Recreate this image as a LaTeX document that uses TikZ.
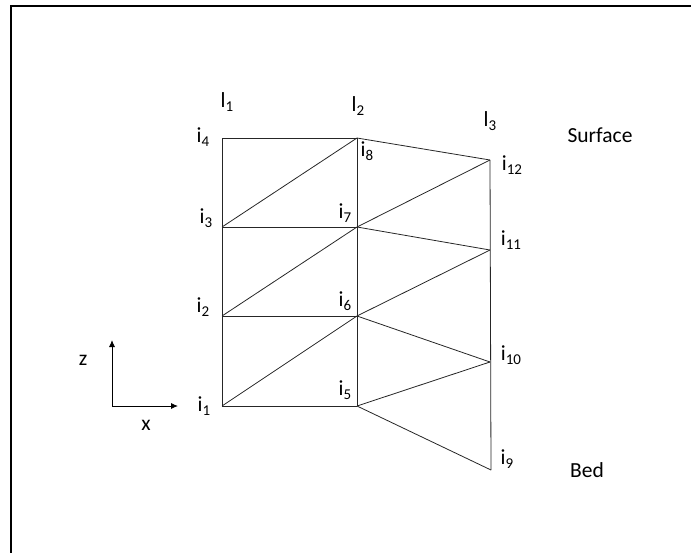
\documentclass[tikz,border=0pt]{standalone}
\usepackage{fontspec}
\setmainfont{Carlito}
\usetikzlibrary{arrows.meta}
\newcommand{\sbx}[2]{#1\raisebox{-0.18em}{\fontsize{15}{15}\selectfont #2}}
\tikzset{
  mesh/.style={draw=black!85, line width=0.8pt},
  lbl/.style={inner sep=0pt, anchor=center, font=\fontsize{21.5}{25}\selectfont},
  axis/.style={draw=black, line width=0.9pt, -{Latex[length=7pt,width=6pt]}},
  frame/.style={draw=black, line width=2pt}
}
\begin{document}
\begin{tikzpicture}[x=1pt,y=-1pt]
\useasboundingbox (0,0) rectangle (691,552);
% frame (top and left edges visible)
\coordinate (fa) at (11,6);
\coordinate (fb) at (692,6);
\coordinate (fc) at (11,553);
\draw[frame] (fb) -- (fa) -- (fc);

% mesh points
\coordinate (p1) at (222,406);
\coordinate (p2) at (222,316);
\coordinate (p3) at (222,227);
\coordinate (p4) at (222,138);
\coordinate (p5) at (357,406);
\coordinate (p6) at (357,316);
\coordinate (p7) at (357,227);
\coordinate (p8) at (357,138);
\coordinate (p9) at (491,470);
\coordinate (p10) at (490,362);
\coordinate (p11) at (490,250);
\coordinate (p12) at (490,160);

% column 1
\draw[mesh] (p1) -- (p4);
\draw[mesh] (p4) -- (p8);
\draw[mesh] (p3) -- (p7);
\draw[mesh] (p2) -- (p6);
\draw[mesh] (p1) -- (p5);
\draw[mesh] (p5) -- (p8);
\draw[mesh] (p3) -- (p8);
\draw[mesh] (p2) -- (p7);
\draw[mesh] (p1) -- (p6);
% column 2
\draw[mesh] (p8) -- (p12);
\draw[mesh] (p7) -- (p12);
\draw[mesh] (p7) -- (p11);
\draw[mesh] (p6) -- (p11);
\draw[mesh] (p6) -- (p10);
\draw[mesh] (p5) -- (p10);
\draw[mesh] (p5) -- (p9);
\draw[mesh] (p9) -- (p12);

% labels
\node[lbl] (l1) at (227,102) {\sbx{l}{1}};
\node[lbl] (l2) at (358,106) {\sbx{l}{2}};
\node[lbl] (l3) at (490,121) {\sbx{l}{3}};
\node[lbl] (i4) at (203,137) {\sbx{i}{4}};
\node[lbl] (i3) at (206,218) {\sbx{i}{3}};
\node[lbl] (i2) at (203,307) {\sbx{i}{2}};
\node[lbl] (i1) at (204,406) {\sbx{i}{1}};
\node[lbl] (i8) at (367,151) {\sbx{i}{8}};
\node[lbl] (i7) at (345,213) {\sbx{i}{7}};
\node[lbl] (i6) at (345,301) {\sbx{i}{6}};
\node[lbl] (i5) at (345,390) {\sbx{i}{5}};
\node[lbl] (i12) at (512,165) {\sbx{i}{12}};
\node[lbl] (i11) at (511,240) {\sbx{i}{11}};
\node[lbl] (i10) at (511,355) {\sbx{i}{10}};
\node[lbl] (i9) at (507,459) {\sbx{i}{9}};
\node[lbl] (surf) at (600,135) {Surface};
\node[lbl] (bed) at (587,470) {Bed};

% axes
\coordinate (o) at (112,406);
\coordinate (zt) at (112,340);
\coordinate (xt) at (178,406);
\draw[axis] (o) -- (zt);
\draw[axis] (o) -- (xt);
\node[lbl] (zl) at (83,360) {z};
\node[lbl] (xl) at (146,425) {x};
\end{tikzpicture}
\end{document}
